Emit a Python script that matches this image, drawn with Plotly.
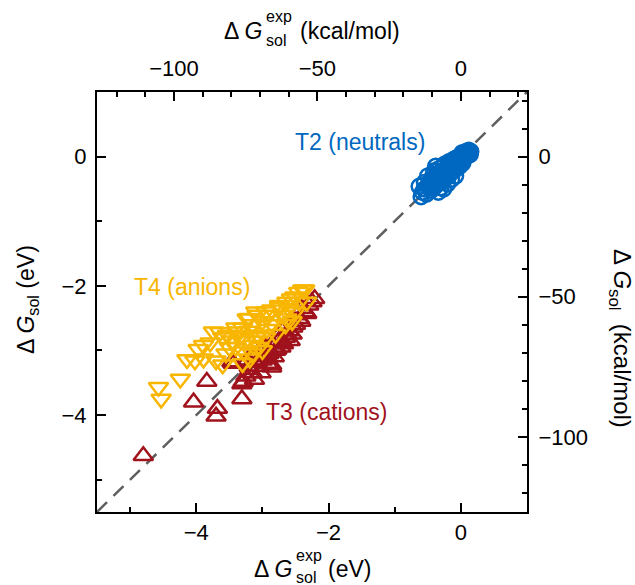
import plotly.graph_objects as go

EV2KCAL = 23.06

# T2 neutrals (eV): experimental, computed
t2_exp = [-0.63, -0.60, -0.58, -0.55, -0.52, -0.50, -0.48, -0.45, -0.43, -0.40, -0.38, -0.36,
          -0.34, -0.32, -0.30, -0.28, -0.26, -0.25, -0.23, -0.21, -0.20, -0.18, -0.17, -0.15,
          -0.14, -0.12, -0.11, -0.10, -0.08, -0.07, -0.06, -0.05, -0.03, -0.02, 0.00, 0.01,
          0.03, 0.05, 0.06, 0.08, 0.10, 0.12, 0.15, 0.14, -0.35, -0.42, -0.22, -0.13, 0.02,
          -0.04, -0.47, -0.55, -0.30, -0.16, -0.38,
          -0.44, -0.40, -0.33, -0.27, -0.24, -0.19, -0.12, -0.09, -0.01, 0.04, 0.09, 0.11,
          -0.36, -0.29, -0.20, -0.11, -0.06, 0.00, 0.07, -0.50, -0.41, -0.31, -0.18, -0.09]
t2_calc = [-0.46, -0.62, -0.55, -0.40, -0.58, -0.30, -0.48, -0.52, -0.35, -0.22, -0.45, -0.30,
           -0.55, -0.18, -0.40, -0.25, -0.50, -0.12, -0.33, -0.20, -0.42, -0.08, -0.28, -0.15,
           -0.35, -0.05, -0.22, -0.12, -0.30, -0.02, -0.18, -0.08, 0.00, -0.15, -0.05, 0.03,
           -0.10, 0.05, -0.02, 0.08, 0.02, 0.10, 0.08, 0.03, -0.38, -0.28, -0.28, -0.10, 0.06,
           -0.10, -0.38, -0.50, -0.48, -0.22, -0.15,
           -0.42, -0.35, -0.25, -0.35, -0.20, -0.15, -0.18, -0.05, -0.07, 0.00, 0.05, 0.06,
           -0.22, -0.32, -0.30, -0.14, -0.12, -0.02, 0.02, -0.45, -0.48, -0.28, -0.12, -0.20]

# T3 cations
t3_exp = [-4.80, -4.04, -3.84, -3.68, -3.70, -3.31, -3.31, -3.46, -2.86, -2.21, -3.29, -3.44,
          -3.08, -2.93, -2.78, -2.69, -2.62, -2.54, -2.44, -2.33, -3.19, -2.86, -3.25, -3.20,
          -3.15, -3.10, -3.05, -3.00, -2.95, -2.90, -2.85, -2.80, -2.75, -2.72, -2.65, -2.60,
          -2.58, -2.50, -2.48, -2.40, -2.30, -2.25, -2.70, -3.00, -3.12, -2.92,
          -3.22, -3.02, -2.82, -2.68, -2.55, -2.42, -2.35]
t3_calc = [-4.63, -3.80, -3.48, -3.90, -4.02, -3.52, -3.75, -3.18, -3.22, -2.20, -3.48, -3.20,
           -3.18, -3.07, -2.98, -2.87, -2.76, -2.64, -2.51, -2.43, -3.30, -3.26, -3.40, -3.25,
           -3.35, -3.10, -3.25, -3.15, -2.95, -3.05, -2.90, -3.00, -2.85, -2.95, -2.80, -2.70,
           -2.85, -2.60, -2.45, -2.35, -2.30, -2.25, -2.70, -2.95, -3.45, -3.20,
           -3.15, -3.35, -3.10, -2.90, -2.75, -2.55, -2.40]

# T4 anions
t4_exp = [-4.57, -4.53, -4.24, -4.14, -4.02, -3.89, -3.70, -3.60, -3.97, -3.89, -3.79, -3.74,
          -3.64, -3.53, -3.38, -3.29, -3.19, -3.14, -3.07, -3.23, -3.08, -2.93, -2.86, -2.74,
          -2.63, -2.56, -2.39, -2.44, -2.33, -2.36, -2.51, -2.63, -2.74, -3.45, -3.40, -3.35,
          -3.30, -3.25, -3.20, -3.15, -3.10, -3.05, -3.00, -2.95, -2.90, -2.85, -2.80, -2.70,
          -2.65, -2.60, -2.50, -2.55, -3.50, -3.55, -3.30, -3.15, -3.00, -2.95, -3.40, -3.60,
          -3.20, -2.45, -3.10]
t4_calc = [-3.57, -3.75, -3.44, -3.14, -3.16, -3.13, -3.16, -3.22, -2.98, -2.92, -2.88, -2.71,
           -2.72, -2.76, -2.71, -3.02, -3.13, -2.92, -2.76, -2.51, -2.45, -2.67, -2.37, -2.30,
           -2.51, -2.20, -2.06, -2.25, -2.25, -2.06, -2.17, -2.25, -2.33, -2.85, -2.95, -2.80,
           -2.65, -2.85, -2.70, -2.60, -2.85, -2.95, -2.55, -2.80, -2.45, -2.60, -2.75, -2.45,
           -2.60, -2.35, -2.40, -2.55, -2.95, -3.05, -3.20, -3.05, -3.00, -2.40, -2.65, -2.80,
           -2.50, -2.10, -2.40]

diag = [-5.5, 1.0]
ev_range = [-5.5, 1.0]
ev_ticks = [-4, -2, 0]
ev_minor = [-5, -3, -1]
kcal_ticks = [-100, -50, 0]

BLUE = "rgb(0,104,192)"
GOLD = "rgb(248,182,0)"
RED = "rgb(160,18,28)"
FONT = "Liberation Sans, Arial, Helvetica, sans-serif"

fig = go.Figure()
fig.add_trace(go.Scatter(x=diag, y=diag, mode="lines",
                         line=dict(color="rgb(95,95,95)", width=2.5, dash="14px,9px"),
                         showlegend=False, hoverinfo="skip"))
fig.add_trace(go.Scatter(x=t2_exp, y=t2_calc, mode="markers", showlegend=False,
                         marker=dict(symbol="circle-open", size=15, color=BLUE,
                                     line=dict(width=2.5, color=BLUE))))
fig.add_trace(go.Scatter(x=t3_exp, y=t3_calc, mode="markers", showlegend=False,
                         marker=dict(symbol="triangle-up-open", size=17, color=RED,
                                     line=dict(width=2.5, color=RED))))
fig.add_trace(go.Scatter(x=t4_exp, y=t4_calc, mode="markers", showlegend=False,
                         marker=dict(symbol="triangle-down-open", size=17, color=GOLD,
                                     line=dict(width=2.5, color=GOLD))))
# invisible trace to activate secondary axes
fig.add_trace(go.Scatter(x=[0], y=[0], xaxis="x2", yaxis="y2", mode="markers",
                         marker=dict(opacity=0), showlegend=False, hoverinfo="skip"))

TICKF = 22


def axis_common(standoff):
    return dict(showgrid=False, zeroline=False, showline=True, linecolor="black",
                linewidth=2, ticks="inside", ticklen=9, tickwidth=1.5, tickcolor="black",
                ticklabelstandoff=standoff,
                tickfont=dict(size=TICKF, color="black", family=FONT))


minor_ev = dict(tickvals=ev_minor, ticks="inside", ticklen=5, tickcolor="black", tickwidth=1.5)
minor_kc = dict(dtick=10, ticks="inside", ticklen=5, tickcolor="black", tickwidth=1.5)

fig.update_layout(
    width=635, height=585,
    margin=dict(l=97, r=108, t=92, b=73),
    paper_bgcolor="white", plot_bgcolor="white",
    font=dict(family=FONT, color="black"),
    xaxis=dict(range=ev_range, tickvals=ev_ticks, mirror=True, minor=minor_ev,
               **axis_common(0)),
    yaxis=dict(range=ev_range, tickvals=ev_ticks, mirror=True, minor=minor_ev,
               **axis_common(4)),
    xaxis2=dict(range=[v * EV2KCAL for v in ev_range], tickvals=kcal_ticks, overlaying="x",
                side="top", anchor="y", minor=minor_kc, **axis_common(5)),
    yaxis2=dict(range=[v * EV2KCAL for v in ev_range], tickvals=kcal_ticks, overlaying="y",
                side="right", anchor="x", minor=minor_kc, **axis_common(5)),
)


def px2paper_x(px):
    return (px - 97) / 430.0


def px2paper_y(py):
    return (512 - py) / 420.0


ann = []
TF = 23
SF = 16
# bottom title
ann.append(dict(text="Δ <i>G</i>", x=px2paper_x(294), y=px2paper_y(569), xanchor="right",
                yanchor="middle", font=dict(size=TF)))
ann.append(dict(text="exp", x=px2paper_x(294), y=px2paper_y(555), xanchor="left",
                yanchor="middle", font=dict(size=SF)))
ann.append(dict(text="sol", x=px2paper_x(294), y=px2paper_y(577), xanchor="left",
                yanchor="middle", font=dict(size=SF)))
ann.append(dict(text="(eV)", x=px2paper_x(326), y=px2paper_y(569), xanchor="left",
                yanchor="middle", font=dict(size=TF)))
# top title
ann.append(dict(text="Δ <i>G</i>", x=px2paper_x(264), y=px2paper_y(31), xanchor="right",
                yanchor="middle", font=dict(size=TF)))
ann.append(dict(text="exp", x=px2paper_x(264), y=px2paper_y(17), xanchor="left",
                yanchor="middle", font=dict(size=SF)))
ann.append(dict(text="sol", x=px2paper_x(264), y=px2paper_y(40), xanchor="left",
                yanchor="middle", font=dict(size=SF)))
ann.append(dict(text="(kcal/mol)", x=px2paper_x(298), y=px2paper_y(31), xanchor="left",
                yanchor="middle", font=dict(size=TF)))
# left title
ann.append(dict(text="Δ <i>G</i><sub>sol</sub> (eV)", x=px2paper_x(27), y=px2paper_y(300),
                xanchor="center", yanchor="middle", textangle=-90, font=dict(size=TF)))
# right title
ann.append(dict(text="Δ <i>G</i><sub>sol</sub>  (kcal/mol)", x=px2paper_x(621), y=px2paper_y(338),
                xanchor="center", yanchor="middle", textangle=90, font=dict(size=24)))
for a in ann:
    a.update(xref="paper", yref="paper", showarrow=False)
    a["font"].update(color="black", family=FONT)

# series labels
fig.add_annotation(text="T2 (neutrals)", x=-1.52, y=0.22, xref="x", yref="y", showarrow=False,
                   font=dict(size=23, color=BLUE, family=FONT), xanchor="center", yanchor="middle")
fig.add_annotation(text="T4 (anions)", x=-4.97, y=-2.02, xref="x", yref="y", showarrow=False,
                   font=dict(size=23, color=GOLD, family=FONT), xanchor="left", yanchor="middle")
fig.add_annotation(text="T3 (cations)", x=-2.98, y=-3.95, xref="x", yref="y", showarrow=False,
                   font=dict(size=23, color=RED, family=FONT), xanchor="left", yanchor="middle")
for a in ann:
    fig.add_annotation(**a)

fig.write_html("out.html")
